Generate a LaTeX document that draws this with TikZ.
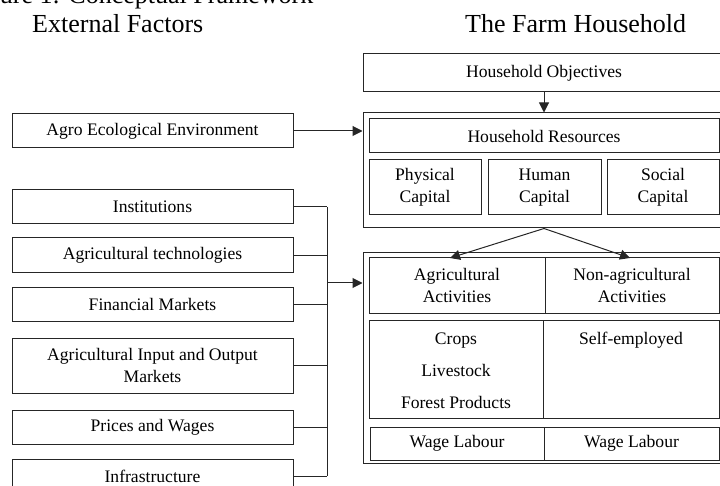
\documentclass[tikz,border=0pt]{standalone}
\usepackage{fontspec}
\setmainfont{Liberation Serif}
\usetikzlibrary{arrows.meta}
\begin{document}
\begin{tikzpicture}[x=1pt,y=-1pt,
  box/.style={draw=black!85, line width=1pt, inner sep=0pt, align=center,
    font=\fontsize{17.6}{22}\selectfont},
  lbl/.style={inner sep=0pt, anchor=base, font=\fontsize{17.6}{22}\selectfont},
  hdr/.style={inner sep=0pt, anchor=base west, font=\fontsize{26}{30}\selectfont},
  conn/.style={draw=black!85, line width=1pt},
  arr/.style={conn, -{Triangle[length=10pt,width=10pt]}}]
\useasboundingbox (0,0) rectangle (720,486);
\clip (0,0) rectangle (720,486);
% headings
\node[hdr] (title) at (-35,4) {Figure 1: Conceptual Framework};
\node[hdr] (hl) at (32,33) {External Factors};
\node[hdr] (hr) at (465,33) {The Farm Household};
% left boxes
\node[box, minimum width=281pt, minimum height=34pt] (agro) at (152.5,131) {Agro Ecological Environment};
\node[box, minimum width=281pt, minimum height=34pt] (inst) at (152.5,207) {Institutions};
\node[box, minimum width=281pt, minimum height=35pt] (tech) at (152.5,255.5) {Agricultural technologies};
\node[box, minimum width=281pt, minimum height=33pt] (fin) at (152.5,304.5) {Financial Markets};
\node[box, minimum width=281pt, minimum height=55pt] (agio) at (152.5,365.5) {Agricultural Input and Output\\Markets};
\node[box, minimum width=281pt, minimum height=34pt] (price) at (152.5,427) {Prices and Wages};
\node[box, minimum width=281pt, minimum height=34pt] (infra) at (152.5,476) {Infrastructure};
% right: objectives and resources
\node[box, minimum width=362pt, minimum height=38pt] (obj) at (544,73) {Household Objectives};
\node[box, minimum width=362pt, minimum height=115pt] (resout) at (544,170.5) {};
\node[box, minimum width=350pt, minimum height=34pt] (resin) at (544,136) {Household Resources};
\node[box, minimum width=112pt, minimum height=55pt] (phys) at (425,187.5) {Physical\\Capital};
\node[box, minimum width=113pt, minimum height=55pt] (hum) at (544.5,187.5) {Human\\Capital};
\node[box, minimum width=112pt, minimum height=55pt] (soc) at (663,187.5) {Social\\Capital};
% right: activities
\node[box, minimum width=362pt, minimum height=210pt] (actout) at (544,358) {};
\node[box, minimum width=176pt, minimum height=55pt] (agact) at (457,285.5) {Agricultural\\Activities};
\node[box, minimum width=174pt, minimum height=55pt] (nonag) at (632,285.5) {Non-agricultural\\Activities};
\node[box, minimum width=174pt, minimum height=98pt] (cropbox) at (456,369) {};
\node[box, minimum width=176pt, minimum height=98pt] (selfbox) at (631,369) {};
\node[lbl] (crops) at (456,344) {Crops};
\node[lbl] (live) at (456,376) {Livestock};
\node[lbl] (forest) at (456,408) {Forest Products};
\node[lbl] (self) at (631,344) {Self-employed};
\node[box, minimum width=174pt, minimum height=33pt] (wl1) at (457,443.5) {Wage Labour};
\node[box, minimum width=175pt, minimum height=33pt] (wl2) at (631.5,443.5) {Wage Labour};
% connectors
\draw[arr] (obj.south) -- (resout.north);
\draw[arr] (agro.east) -- (agro.east -| resout.west);
\coordinate (bus) at (327,283);
\foreach \n in {inst,tech,fin,agio,price,infra} \draw[conn] (\n.east) -- (\n.east -| bus);
\draw[conn] (inst.east -| bus) -- (infra.east -| bus);
\draw[arr] (bus) -- (bus -| actout.west);
\coordinate (tipL) at (450,258);
\coordinate (tipR) at (630,258);
\draw[arr] (resout.south) -- (tipL);
\draw[arr] (resout.south) -- (tipR);
\end{tikzpicture}
\end{document}
